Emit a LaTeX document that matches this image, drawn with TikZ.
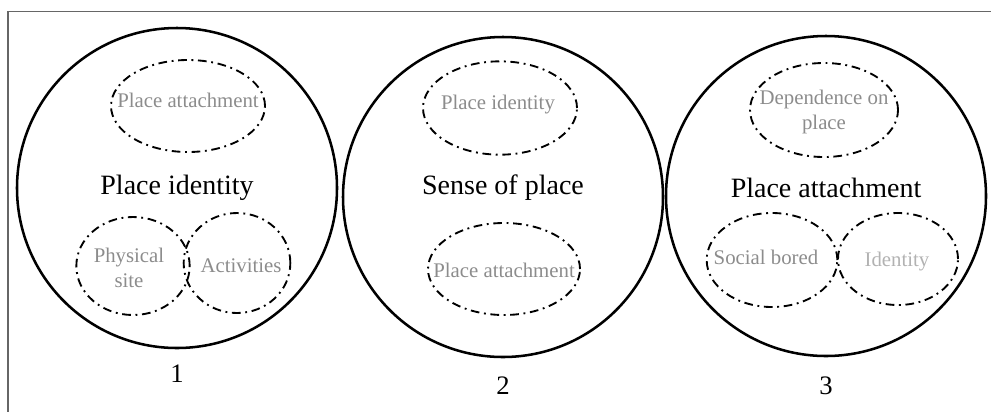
\documentclass[tikz,border=0pt]{standalone}
\usepackage{fontspec}
\setmainfont{Liberation Serif}
\usetikzlibrary{shapes.geometric}

\tikzset{
  outer/.style={draw,circle,line width=1.9pt,minimum size=240pt,inner sep=0pt},
  ring/.style={draw,ellipse,line width=1.4pt,inner sep=0pt,
    dash pattern=on 6.5pt off 3.5pt on 1.4pt off 3.5pt},
  title/.style={font=\fontsize{21}{24}\selectfont},
  item/.style={font=\fontsize{15.6}{18.75}\selectfont,text=black!45,align=center},
  num/.style={font=\fontsize{20}{23}\selectfont}
}

\begin{document}
\begin{tikzpicture}[x=0.75pt,y=-0.75pt]
\useasboundingbox (0,0) rectangle (991,412);
\draw[black!60,line width=1pt] (991,11.5) -| (8,412);

% 1: place identity
\node[outer] (c1) at (177,188) {};
\node[title] (t1) at (177,188) {Place identity};
\node[ring,minimum width=115.5pt,minimum height=69pt] (e11) at (188,106) {};
\node[ring,minimum width=85pt,minimum height=73.5pt] (e12) at (133,266) {};
\node[ring,minimum width=80pt,minimum height=75pt] (e13) at (237,263) {};
\node[item] (l11) at (188,100) {Place attachment};
\node[item] (l12) at (129,268) {Physical\\site};
\node[item] (l13) at (241,266) {Activities};
\node[num] (n1) at (177,374) {1};

% 2: sense of place
\node[outer] (c2) at (503,197) {};
\node[title] (t2) at (503,188) {Sense of place};
\node[ring,minimum width=115.5pt,minimum height=70pt] (e21) at (500,108) {};
\node[ring,minimum width=114pt,minimum height=69pt] (e22) at (504,269) {};
\node[item] (l21) at (498,105) {Place identity};
\node[item] (l22) at (504,270) {Place attachment};
\node[num] (n2) at (503,386) {2};

% 3: place attachment
\node[outer] (c3) at (826,196) {};
\node[title] (t3) at (826,188) {Place attachment};
\node[ring,minimum width=111pt,minimum height=70.5pt] (e31) at (824,110) {};
\node[ring,minimum width=98pt,minimum height=70.5pt] (e32) at (772,260) {};
\node[ring,minimum width=90pt,minimum height=69pt] (e33) at (898,259) {};
\node[item] (l31) at (824,112) {Dependence on\\place};
\node[item] (l32) at (766,257) {Social bored};
\node[item,text=black!30] (l33) at (897,262) {Identity};
\node[num] (n3) at (826,386) {3};
\end{tikzpicture}
\end{document}
